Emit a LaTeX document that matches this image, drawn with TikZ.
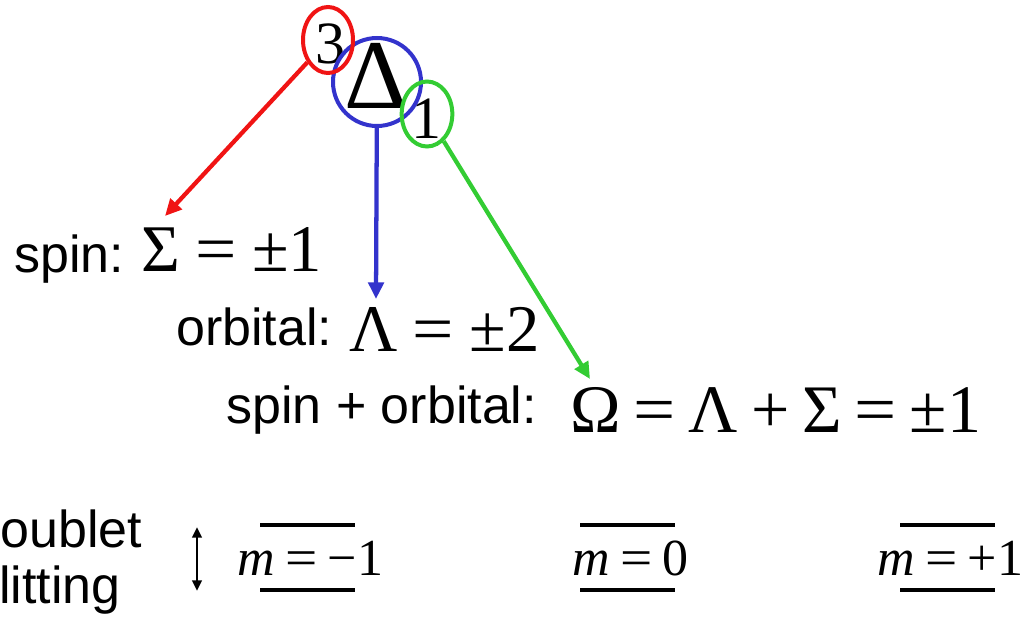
\documentclass[tikz,border=0pt]{standalone}
\usepackage{fontspec}
\usepackage{graphicx}
\setmainfont{Liberation Serif}
\newfontfamily\arial{Liberation Sans}
\usetikzlibrary{shapes.geometric,arrows.meta}
\definecolor{cred}{RGB}{240,20,20}
\definecolor{cblue}{RGB}{51,51,204}
\definecolor{cgreen}{RGB}{51,204,51}
\newcommand{\rsp}{\hspace{0.23em}}
\newcommand{\osp}{\hspace{0.19em}}
\newcommand{\msp}{\hspace{0.2em}}
\newcommand{\eq}{\scalebox{1.1}[1]{=}}
\begin{document}
\begin{tikzpicture}[x=0.75pt,y=-0.75pt,
  lab/.style={inner sep=0pt,anchor=base west,font=\arial\fontsize{39}{39}\selectfont},
  eqn/.style={inner sep=0pt,anchor=base west,font=\fontsize{50}{50}\selectfont},
  meq/.style={inner sep=0pt,anchor=base west,font=\fontsize{39}{39}\selectfont},
  ring/.style={draw,shape=ellipse,inner sep=0pt,line width=3pt},
  conn/.style={line width=3.2pt,-{Triangle[length=12.5pt,width=11.5pt]}},
  level/.style={line width=3pt}]
\useasboundingbox (0,0) rectangle (1030,621);
% term symbol
\node[inner sep=0pt,anchor=base,font=\fontsize{45}{45}\selectfont] (t3) at (330,63) {3};
\node[inner sep=0pt,anchor=base,font=\fontsize{74}{74}\selectfont] (tD) at (376,108) {Δ};
\node[inner sep=0pt,anchor=base,font=\fontsize{45}{45}\selectfont] (t1) at (426,138) {1};
\node[ring,draw=cblue,minimum width=66pt,minimum height=66pt] (cB) at (377,82) {};
\node[ring,draw=cred,minimum width=37.5pt,minimum height=49.5pt] (cR) at (328,40) {};
\node[ring,draw=cgreen,minimum width=38pt,minimum height=48.75pt] (cG) at (427,114) {};
% labels
\node[lab] (l1) at (14,272) {spin:};
\node[eqn] (e1) at (141,271) {Σ\rsp\eq\rsp±1};
\node[lab] (l2) at (176,345) {orbital:};
\node[eqn] (e2) at (349,351) {Λ\rsp\eq\rsp±2};
\node[lab] (l3) at (226,423) {spin + orbital:};
\node[eqn,font=\fontsize{51}{51}\selectfont] (e3) at (570,432) {Ω\osp\eq\osp Λ\osp+\osp Σ\osp\eq\osp±1};
\coordinate (tipR) at (165,216);
\coordinate (tipB) at (376,299);
\coordinate (tipG) at (590,379);
\draw[conn,cred] (cR) -- (tipR);
\draw[conn,cblue] (cB) -- (tipB);
\draw[conn,cgreen] (cG) -- (tipG);
% bottom
\node[lab] (d1) at (0,547) {oublet};
\node[lab] (d2) at (-1,603) {litting};
\coordinate (da) at (197,527);
\coordinate (db) at (197,591);
\draw[line width=2.2pt,{Triangle[length=8pt,width=7pt]}-{Triangle[length=8pt,width=7pt]}] (da) -- (db);
\node[meq] (m1) at (237,575) {\textit{m}\msp\eq\msp−1};
\node[meq] (m2) at (572,575) {\textit{m}\msp\eq\msp0};
\node[meq] (m3) at (877,575) {\textit{m}\msp\eq\msp+1};
\coordinate (a1) at (260,525); \coordinate (b1) at (355,525);
\coordinate (a2) at (260,590); \coordinate (b2) at (355,590);
\coordinate (a3) at (580,525); \coordinate (b3) at (675,525);
\coordinate (a4) at (580,590); \coordinate (b4) at (675,590);
\coordinate (a5) at (900,525); \coordinate (b5) at (995,525);
\coordinate (a6) at (900,590); \coordinate (b6) at (995,590);
\draw[level] (a1) -- (b1); \draw[level] (a2) -- (b2);
\draw[level] (a3) -- (b3); \draw[level] (a4) -- (b4);
\draw[level] (a5) -- (b5); \draw[level] (a6) -- (b6);
\end{tikzpicture}
\end{document}
